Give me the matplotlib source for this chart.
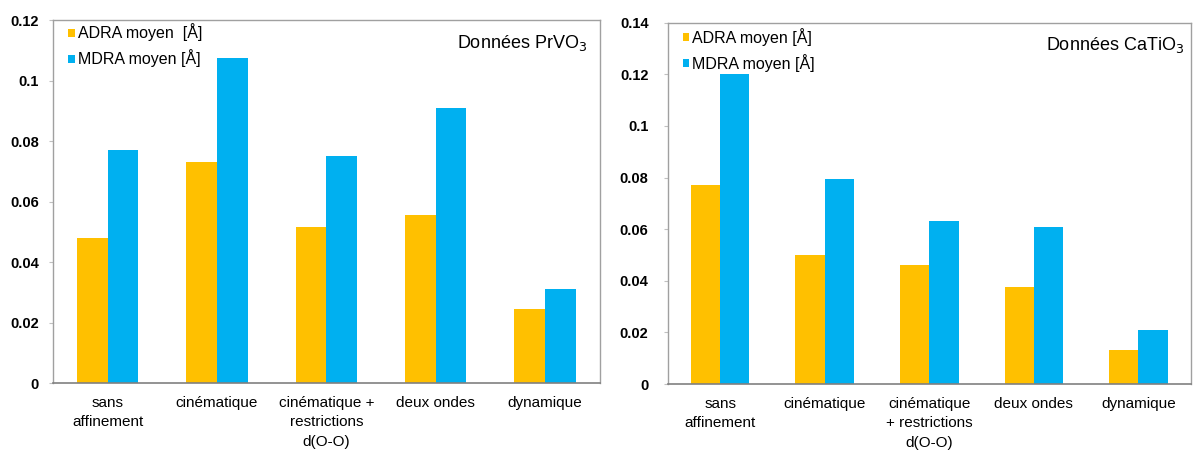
import matplotlib
matplotlib.use("Agg")
import matplotlib.pyplot as plt
import numpy as np

plt.rcParams['font.family'] = ['Liberation Sans', 'DejaVu Sans']

# catégories (axe x)
categories = ['sans\naffinement', 'cinématique', 'cinématique +\nrestrictions\nd(O-O)',
              'deux ondes', 'dynamique']
categories_ca = ['sans\naffinement', 'cinématique', 'cinématique\n+ restrictions\nd(O-O)',
                 'deux ondes', 'dynamique']

# données PrVO3
adra_prvo3 = [0.048, 0.073, 0.0515, 0.0555, 0.0245]
mdra_prvo3 = [0.077, 0.1075, 0.075, 0.091, 0.031]

# données CaTiO3
adra_catio3 = [0.077, 0.050, 0.046, 0.0375, 0.013]
mdra_catio3 = [0.120, 0.0795, 0.063, 0.061, 0.021]

yellow = '#FFC000'
blue = '#00B0F0'

fig = plt.figure(figsize=(11.96, 4.55), dpi=100)
ax1 = fig.add_axes([0.0443, 0.158, 0.457, 0.798])
ax2 = fig.add_axes([0.5585, 0.156, 0.437, 0.794])


def draw(ax, adra, mdra, labels, ymax, title, adra_label, ypad, title_x, leg_y):
    x = np.arange(len(labels))
    w = 0.28
    ax.bar(x - w / 2, adra, w, color=yellow, label=adra_label)
    ax.bar(x + w / 2, mdra, w, color=blue, label='MDRA moyen [Å]')
    ax.set_xlim(-0.5, len(labels) - 0.5)
    ax.set_ylim(0, ymax)
    ticks = np.arange(0, ymax + 0.001, 0.02)
    ax.set_yticks(ticks)
    ax.set_yticklabels(['0' if v == 0 else f'{v:.2f}'.rstrip('0') for v in ticks],
                       fontweight='bold', fontsize=10.5)
    ax.set_xticks(x)
    ax.set_xticklabels(labels, fontsize=11, linespacing=1.5)
    ax.tick_params(axis='x', length=0, pad=9)
    ax.tick_params(axis='y', length=3, width=0.8, color='#c0c0c0', pad=ypad - 3)
    for s in ['top', 'right', 'left']:
        ax.spines[s].set_color('#a0a0a0')
        ax.spines[s].set_linewidth(1.0)
    ax.spines['bottom'].set_color('#808080')
    ax.spines['bottom'].set_linewidth(1.2)
    ax.text(title_x, 0.965, title, transform=ax.transAxes, ha='right', va='top', fontsize=13)
    ax.legend(loc='upper left', bbox_to_anchor=(0.025, leg_y), frameon=False, fontsize=11.5,
              handlelength=0.4, handleheight=0.4, handletextpad=0.2, borderaxespad=0.0,
              labelspacing=0.5, borderpad=0.1)


draw(ax1, adra_prvo3, mdra_prvo3, categories, 0.12, 'Données PrVO$_3$', 'ADRA moyen  [Å]',
     10, 0.978, 0.995)
draw(ax2, adra_catio3, mdra_catio3, categories_ca, 0.14, 'Données CaTiO$_3$', 'ADRA moyen [Å]',
     14, 0.988, 0.99)

fig.savefig('out.png', dpi=100)
